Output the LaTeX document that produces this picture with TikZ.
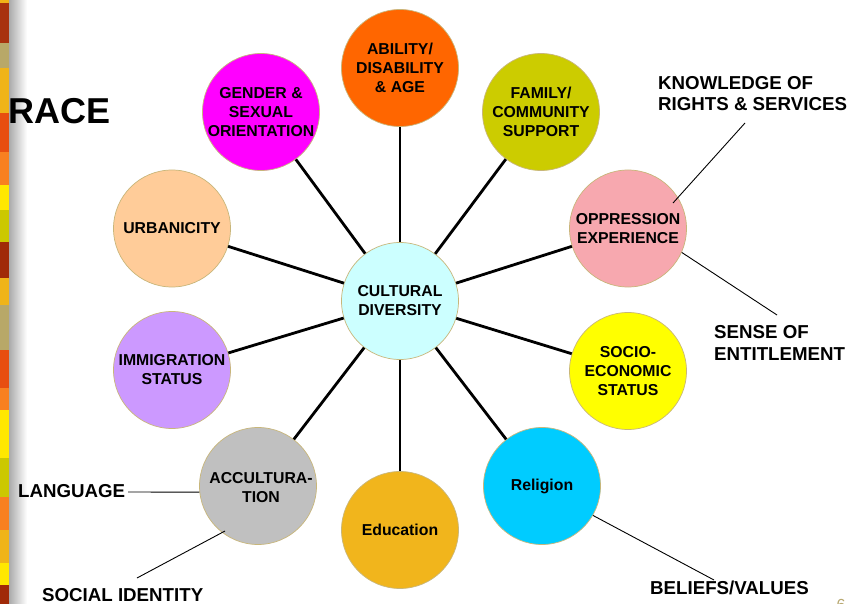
\documentclass[tikz,border=0pt]{standalone}
\usepackage{fontspec}
\setmainfont{Liberation Sans}
\definecolor{rim}{HTML}{C8B67A}
\definecolor{cdiv}{HTML}{CCFFFF}
\definecolor{cabil}{HTML}{FF6600}
\definecolor{cfam}{HTML}{CCCC00}
\definecolor{copp}{HTML}{F7A8AF}
\definecolor{csoc}{HTML}{FFFF00}
\definecolor{crel}{HTML}{00CCFF}
\definecolor{cedu}{HTML}{F1B51C}
\definecolor{cacc}{HTML}{C0C0C0}
\definecolor{cimm}{HTML}{CC99FF}
\definecolor{curb}{HTML}{FFCC99}
\definecolor{cgen}{HTML}{FF00FF}
\definecolor{sgold}{HTML}{F0B418}
\definecolor{srust}{HTML}{A8320E}
\definecolor{stan}{HTML}{B8A868}
\definecolor{sored}{HTML}{E84E10}
\definecolor{sorange}{HTML}{F88020}
\definecolor{syellow}{HTML}{FFE800}
\definecolor{sygreen}{HTML}{CCC800}
\definecolor{sdred}{HTML}{A02A08}
\definecolor{pnum}{HTML}{B8A870}
\begin{document}
\begin{tikzpicture}[x=1pt,y=-1pt,
  bub/.style={circle, draw=rim, line width=0.7pt, minimum size=117pt, inner sep=0pt},
  ctext/.style={align=center, font=\bfseries\fontsize{15.8}{19}\selectfont, inner sep=0pt},
  lab/.style={align=left, inner sep=0pt},
  spoke/.style={line width=2.8pt},
  annot/.style={line width=0.9pt}]
\useasboundingbox (0,0) rectangle (849,604);
\fill[white] (0,0) rectangle (849,604);
% left decorative strip and shadow
\shade[left color=gray!70, right color=white] (8,0) rectangle (27,604);
\foreach \a/\b/\c in {0/3/sgold,3/43/srust,43/68/stan,68/113/sgold,113/152/sored,152/185/sorange,185/210/syellow,210/242/sygreen,242/278/sdred,278/305/sgold,305/350/stan,350/388/sored,388/410/sorange,410/458/syellow,458/497/sygreen,497/530/sorange,530/563/sgold,563/585/syellow,585/604/sdred}
  \fill[\c] (0,\a) rectangle (9,\b);
% title
\node[anchor=west, inner sep=0pt, font=\bfseries\fontsize{36}{36}\selectfont] (race) at (8,111.5) {RACE};
% circles
\node[bub, fill=cdiv]  (cd)   at (400,301) {};
\node[bub, fill=cabil] (abil) at (400,68) {};
\node[bub, fill=cfam]  (fam)  at (541,112) {};
\node[bub, fill=copp]  (opp)  at (628,228.5) {};
\node[bub, fill=csoc]  (soc)  at (628,371) {};
\node[bub, fill=crel]  (rel)  at (542,486) {};
\node[bub, fill=cedu]  (edu)  at (400,530) {};
\node[bub, fill=cacc]  (acc)  at (258,486) {};
\node[bub, fill=cimm]  (imm)  at (172,370) {};
\node[bub, fill=curb]  (urb)  at (172,228.5) {};
\node[bub, fill=cgen]  (gen)  at (261,112) {};
% spokes
\foreach \n in {abil,fam,opp,soc,rel,edu,acc,imm,urb,gen}
  \draw[spoke] (cd) -- (\n);
% circle texts
\node[ctext] (tcd)   at (cd)   {CULTURAL\\DIVERSITY};
\node[ctext] (tabil) at (abil) {ABILITY/\\DISABILITY\\\& AGE};
\node[ctext] (tfam)  at (fam)  {FAMILY/\\COMMUNITY\\SUPPORT};
\node[ctext] (topp)  at (opp)  {OPPRESSION\\EXPERIENCE};
\node[ctext] (tsoc)  at (soc)  {SOCIO-\\ECONOMIC\\STATUS};
\node[ctext] (trel)  at (rel)  {Religion};
\node[ctext] (tedu)  at (edu)  {Education};
\node[ctext] (tacc)  at ([shift={(3,1.5)}]acc) {ACCULTURA-\\TION};
\node[ctext] (timm)  at (imm)  {IMMIGRATION\\STATUS};
\node[ctext] (turb)  at (urb)  {URBANICITY};
\node[ctext] (tgen)  at (gen)  {GENDER \&\\SEXUAL\\ORIENTATION};
% outer labels
\node[lab, anchor=west, font=\bfseries\fontsize{18.7}{20.5}\selectfont] (know) at (658,93.5) {KNOWLEDGE OF\\RIGHTS \& SERVICES};
\node[lab, anchor=west, font=\bfseries\fontsize{18.7}{22.3}\selectfont] (sense) at (714,343) {SENSE OF\\ENTITLEMENT};
\node[lab, anchor=west, font=\bfseries\fontsize{18.7}{20}\selectfont] (lang) at (18,491.5) {LANGUAGE};
\node[lab, anchor=west, font=\bfseries\fontsize{18.7}{20}\selectfont] (socid) at (42,595) {SOCIAL IDENTITY};
\node[lab, anchor=west, font=\bfseries\fontsize{18.7}{20}\selectfont] (belief) at (650,587.5) {BELIEFS/VALUES};
% annotation lines
\coordinate (k1) at (745,123);
\coordinate (k2) at (673,203);
\coordinate (s1) at (777,315);
\coordinate (l1) at (128,492);
\coordinate (i1) at (137,578);
\coordinate (i2) at (225,531);
\coordinate (b1) at (714,580);
\draw[annot] (k1) -- (k2);
\draw[annot] (opp.-24) -- (s1);
\draw[annot] (l1) -- (acc.186);
\draw[annot] (i1) -- (i2);
\draw[annot] (rel.-30) -- (b1);
% page number
\node[anchor=base, inner sep=0pt, text=pnum, font=\fontsize{16}{16}\selectfont] (pg) at (841,610) {6};
\end{tikzpicture}
\end{document}
